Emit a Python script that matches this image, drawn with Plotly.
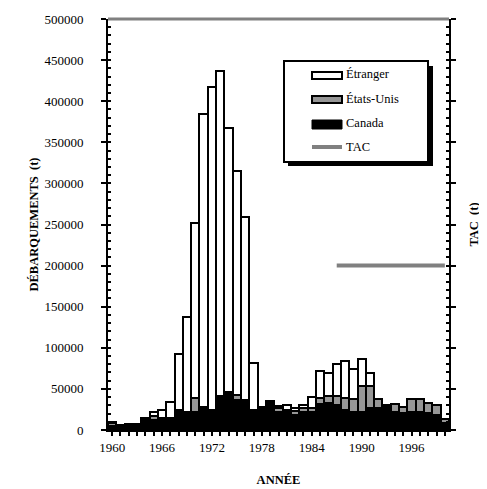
import plotly.graph_objects as go

years = list(range(1960, 2001))
canada = [5300, 6500, 7000, 7000, 15000, 12200, 15000, 15000, 24300, 22300,
          22300, 27600, 24300, 41400, 46600, 36500, 36500, 24300, 24300, 30000,
          22300, 21500, 18200, 22300, 22300, 31600, 33300, 30400, 24300, 22300,
          21500, 26400, 26400, 28000, 22300, 20300, 22300, 22300, 21100, 18200,
          8100]
etats_unis = [2800, 0, 0, 0, 0, 5300, 0, 0, 0, 0,
              17000, 0, 0, 0, 0, 6100, 0, 0, 2800, 3000,
              4900, 2800, 4900, 4000, 4900, 7700, 8100, 10900, 15000, 15400,
              32400, 27600, 10900, 3000, 9000, 8000, 15500, 15000, 12000, 12800,
              4800]
etranger = [1500, 0, 0, 0, 0, 4500, 9000, 19000, 67700, 115600,
            212900, 356400, 393300, 395700, 320400, 272900, 223000, 57600, 1300, 2500,
            2000, 6000, 3300, 4500, 13300, 32400, 28300, 38500, 44600, 36100,
            32500, 15000, 0, 0, 0, 0, 0, 0, 0, 0,
            0]
tac_years = list(range(1987, 2001))
tac = [200000] * len(tac_years)

series_names = ["Étranger", "États-Unis", "Canada", "TAC"]
x_title = "ANNÉE"
y_title = "DÉBARQUEMENTS  (t)"
y2_title = "TAC  (t)"

FONT = "Liberation Serif"
GRAY_US = "#969696"
GRAY_TAC = "#808080"

fig = go.Figure()
for vals, name, col in [(canada, series_names[2], "black"),
                        (etats_unis, series_names[1], GRAY_US),
                        (etranger, series_names[0], "white")]:
    fig.add_trace(go.Bar(x=years, y=vals, name=name, width=1,
                         marker=dict(color=col, line=dict(color="black", width=2)),
                         showlegend=False))
fig.add_trace(go.Scatter(x=tac_years, y=tac, name=series_names[3], yaxis="y2",
                         mode="lines", line=dict(color=GRAY_TAC, width=4),
                         showlegend=False))

# page body has an 8px margin; plot area in window pixels: x 108..449, y 19..430
OFF = 8

def px_x(p):
    return (p - 108) / 341.0

def px_y(p):
    return (430 - p) / 411.0

shapes = []
shapes.append(dict(type="line", xref="paper", yref="paper", x0=0, x1=1, y0=1, y1=1,
                   line=dict(color=GRAY_TAC, width=3)))
shapes.append(dict(type="rect", xref="paper", yref="paper",
                   x0=px_x(288), x1=px_x(433), y0=px_y(166), y1=px_y(66),
                   fillcolor="black", line=dict(width=0), layer="above"))
shapes.append(dict(type="rect", xref="paper", yref="paper",
                   x0=px_x(284), x1=px_x(428), y0=px_y(162), y1=px_y(61),
                   fillcolor="white", line=dict(color="black", width=2), layer="above"))
sym_x0, sym_x1 = px_x(312), px_x(342)
shapes.append(dict(type="rect", xref="paper", yref="paper", x0=sym_x0, x1=sym_x1,
                   y0=px_y(79), y1=px_y(72), fillcolor="white",
                   line=dict(color="black", width=2), layer="above"))
shapes.append(dict(type="rect", xref="paper", yref="paper", x0=sym_x0, x1=sym_x1,
                   y0=px_y(103), y1=px_y(96), fillcolor=GRAY_US,
                   line=dict(color="black", width=2), layer="above"))
shapes.append(dict(type="rect", xref="paper", yref="paper", x0=sym_x0, x1=sym_x1,
                   y0=px_y(129), y1=px_y(120), fillcolor="black",
                   line=dict(color="black", width=1), layer="above"))
shapes.append(dict(type="line", xref="paper", yref="paper", x0=sym_x0, x1=sym_x1,
                   y0=px_y(147), y1=px_y(147),
                   line=dict(color=GRAY_TAC, width=4), layer="above"))

annotations = []
for name, cy in zip(series_names, [74, 98.5, 123, 147]):
    annotations.append(dict(text=name, xref="paper", yref="paper", x=px_x(344), y=px_y(cy),
                            xanchor="left", yanchor="middle", showarrow=False,
                            font=dict(family=FONT, size=12.5, color="black")))

tickfont = dict(family=FONT, size=13, color="black")
titlefont = dict(family=FONT, size=12.5, color="black", weight="bold")

fig.update_layout(
    width=487 - OFF, height=489 - OFF,
    margin=dict(l=108 - OFF, r=38, t=19 - OFF, b=59, autoexpand=False),
    paper_bgcolor="white", plot_bgcolor="white",
    barmode="stack", bargap=0,
    shapes=shapes, annotations=annotations,
    showlegend=False,
    xaxis=dict(range=[1959.5, 2000.5], tick0=1960, dtick=6, ticks="outside", ticklen=4,
               tickwidth=1.5, tickcolor="black",
               minor=dict(dtick=1, tick0=1960, ticks="outside", ticklen=4, tickwidth=1.5,
                          tickcolor="black"),
               showline=True, linecolor="black", linewidth=2, showgrid=False, zeroline=False,
               tickfont=tickfont, title=dict(text=x_title, font=titlefont, standoff=22)),
    yaxis=dict(range=[0, 500000], dtick=50000, tickformat="d", ticks="outside", ticklen=5,
               tickwidth=2, tickcolor="black", ticklabelstandoff=15,
               minor=dict(dtick=10000, ticks="inside", ticklen=3, tickwidth=1.5,
                          tickcolor="black"),
               showline=True, linecolor="black", linewidth=2, showgrid=False, zeroline=False,
               tickfont=tickfont, title=dict(text=y_title, font=titlefont, standoff=3)),
    yaxis2=dict(range=[0, 500000], dtick=50000, overlaying="y", side="right",
                ticks="outside", ticklen=5, tickwidth=2, tickcolor="black",
                showticklabels=False,
                minor=dict(dtick=10000, ticks="inside", ticklen=3, tickwidth=1.5,
                           tickcolor="black"),
                showline=True, linecolor="black", linewidth=2, showgrid=False, zeroline=False,
                title=dict(text=y2_title, font=titlefont, standoff=14)),
)

fig.write_html("out.html")
